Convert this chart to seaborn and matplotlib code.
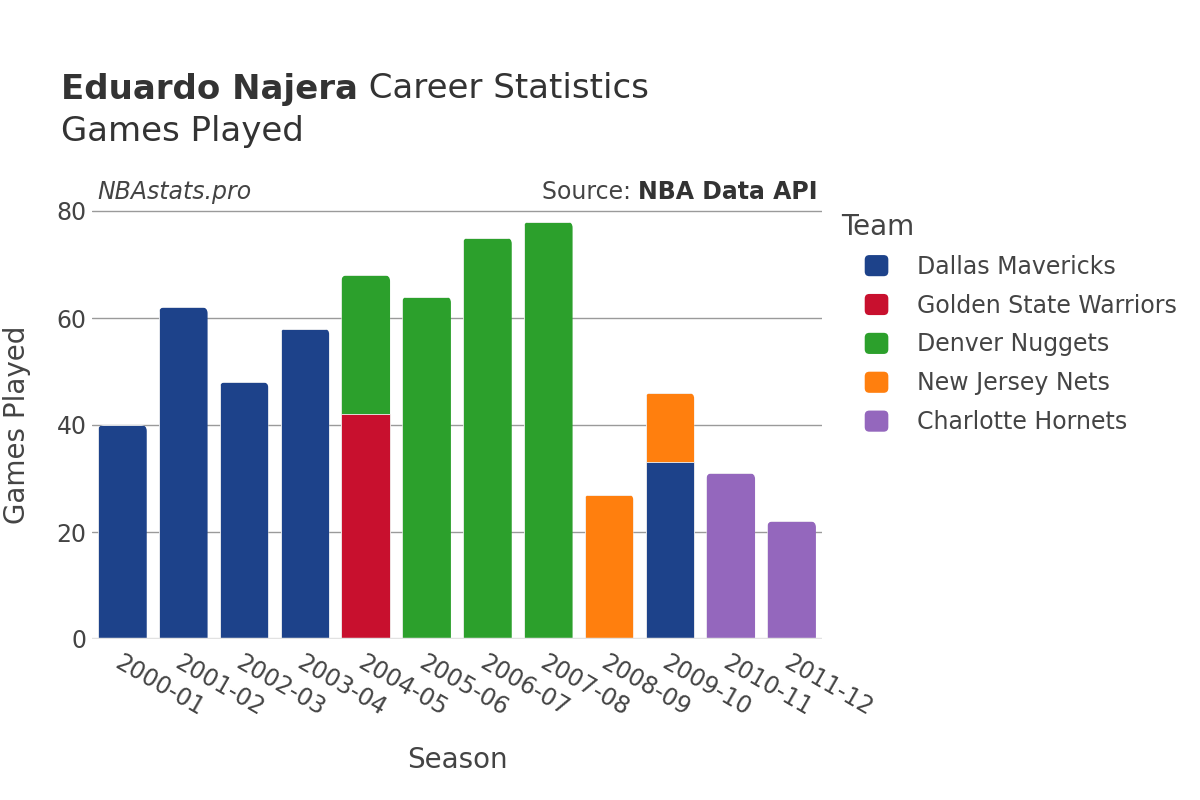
import matplotlib
matplotlib.use("Agg")
import matplotlib.pyplot as plt
import seaborn as sns
import pandas as pd
import numpy as np
from matplotlib.patches import FancyBboxPatch, Patch
from matplotlib.legend_handler import HandlerPatch

seasons = ["2000-01", "2001-02", "2002-03", "2003-04", "2004-05", "2005-06",
           "2006-07", "2007-08", "2008-09", "2009-10", "2010-11", "2011-12"]
teams = ["Dallas Mavericks", "Golden State Warriors", "Denver Nuggets",
         "New Jersey Nets", "Charlotte Hornets"]
dallas = [40, 62, 48, 58, 0, 0, 0, 0, 0, 33, 0, 0]
golden_state = [0, 0, 0, 0, 42, 0, 0, 0, 0, 0, 0, 0]
denver = [0, 0, 0, 0, 26, 64, 75, 78, 0, 0, 0, 0]
new_jersey = [0, 0, 0, 0, 0, 0, 0, 0, 27, 13, 0, 0]
charlotte = [0, 0, 0, 0, 0, 0, 0, 0, 0, 0, 31, 22]
colors = ["#1d428a", "#c8102e", "#2ca02c", "#ff7f0e", "#9467bd"]
yticks = [0, 20, 40, 60, 80]

series = [dallas, golden_state, denver, new_jersey, charlotte]
cum = np.cumsum(np.array(series), axis=0)

sns.set_theme(style="white")
plt.rcParams['font.family'] = ['DejaVu Sans']
txt = "#444444"

fig = plt.figure(figsize=(12, 8), dpi=100)
W, H = 1200, 800
px_per = 5.35
top_val = 80.6
ax = fig.add_axes([92 / W, (800 - 639) / H, 730 / W, top_val * px_per / H])

ax.set_axisbelow(True)
ax.yaxis.grid(True, color="#9a9a9a", linewidth=1)
ax.xaxis.grid(False)

top_patches = {}
for i in reversed(range(len(teams))):
    vals = np.array(series[i])
    df = pd.DataFrame({"Season": seasons, "Total": cum[i], "Val": vals})
    df = df[df["Val"] > 0]
    if df.empty:
        continue
    n_before = len(ax.patches)
    sns.barplot(data=df, x="Season", y="Total", order=seasons, color=colors[i],
                width=0.8, saturation=1, ax=ax, edgecolor="#f2f2f2", linewidth=0.6)
    for p in ax.patches[n_before:]:
        key = round(p.get_x() + p.get_width() / 2)
        if key not in top_patches:
            top_patches[key] = p

ax.set_xlim(-0.5, len(seasons) - 0.5)
ax.set_ylim(0, top_val)
for s in ax.spines.values():
    s.set_visible(False)
ax.axhline(0, color="#e2e2e2", linewidth=2.5, zorder=5)

# rounded top corners for top segments
xscale = 730 / len(seasons)
r_px = 6.0
for key, p in top_patches.items():
    x0, w, h = p.get_x(), p.get_width(), p.get_height()
    clip = FancyBboxPatch((x0, -10), w, h + 10,
                          boxstyle=f"round,pad=0,rounding_size={r_px / xscale}",
                          mutation_aspect=xscale / px_per,
                          transform=ax.transData, facecolor="none", edgecolor="none")
    p.set_clip_path(clip)

ax.set_yticks(yticks)
ax.set_yticklabels([str(v) for v in yticks])
ax.tick_params(axis="y", length=0, pad=4, labelsize=17, labelcolor=txt)
ax.tick_params(axis="x", length=0, pad=8, labelsize=17, labelcolor=txt)
for lab in ax.get_xticklabels():
    lab.set_rotation(-30)
    lab.set_ha("left")
    lab.set_va("top")
    lab.set_rotation_mode("anchor")

ax.set_xlabel("Season", fontsize=20, color=txt, labelpad=0)
ax.xaxis.set_label_coords(0.5, -(760 - 639) / (top_val * px_per))
ax.set_ylabel("Games Played", fontsize=20, color=txt)
ax.yaxis.set_label_coords(-(92 - 17) / 730, (639 - 425) / (top_val * px_per))
ax.xaxis.label.set_va("center")
ax.yaxis.label.set_va("center")

# titles
fig.canvas.draw()
t1 = fig.text(61 / W, 1 - 89 / H, "Eduardo Najera", fontsize=24.5, fontweight="bold",
              color="#333333", va="center", ha="left")
fig.canvas.draw()
bb = t1.get_window_extent()
fig.text(bb.x1 / W, 1 - 89 / H, " Career Statistics", fontsize=24.5, color="#333333",
         va="center", ha="left")
fig.text(61 / W, 1 - 132 / H, "Games Played", fontsize=24.5, color="#333333",
         va="center", ha="left")

fig.text(97 / W, 1 - 192 / H, "NBAstats.pro", fontsize=17, style="italic",
         color=txt, va="center", ha="left")
s2 = fig.text(818 / W, 1 - 192 / H, "NBA Data API", fontsize=17, fontweight="bold",
              color="#333333", va="center", ha="right")
fig.canvas.draw()
bb2 = s2.get_window_extent()
fig.text(bb2.x0 / W, 1 - 192 / H, "Source: ", fontsize=17, color=txt,
         va="center", ha="right")


class RoundHandler(HandlerPatch):
    def create_artists(self, legend, orig_handle, xdescent, ydescent, width, height,
                       fontsize, trans):
        p = FancyBboxPatch((-xdescent, -ydescent), width, height,
                           boxstyle=f"round,pad=0,rounding_size={height * 0.22}",
                           facecolor=orig_handle.get_facecolor(), edgecolor="none",
                           transform=trans)
        return [p]


# legend
fig.text(841 / W, 1 - 227 / H, "Team", fontsize=20, color=txt, va="center", ha="left")
handles = [Patch(facecolor=c, edgecolor="none", label=t) for t, c in zip(teams, colors)]
leg = fig.legend(handles=handles, loc="upper left", bbox_to_anchor=(860 / W, 1 - 250 / H),
                 frameon=False, fontsize=17, handlelength=1.0, handleheight=1.0,
                 handletextpad=1.2, labelspacing=0.63, borderaxespad=0, borderpad=0.2,
                 labelcolor=txt, handler_map={Patch: RoundHandler()})

fig.savefig("out.png", dpi=100)
